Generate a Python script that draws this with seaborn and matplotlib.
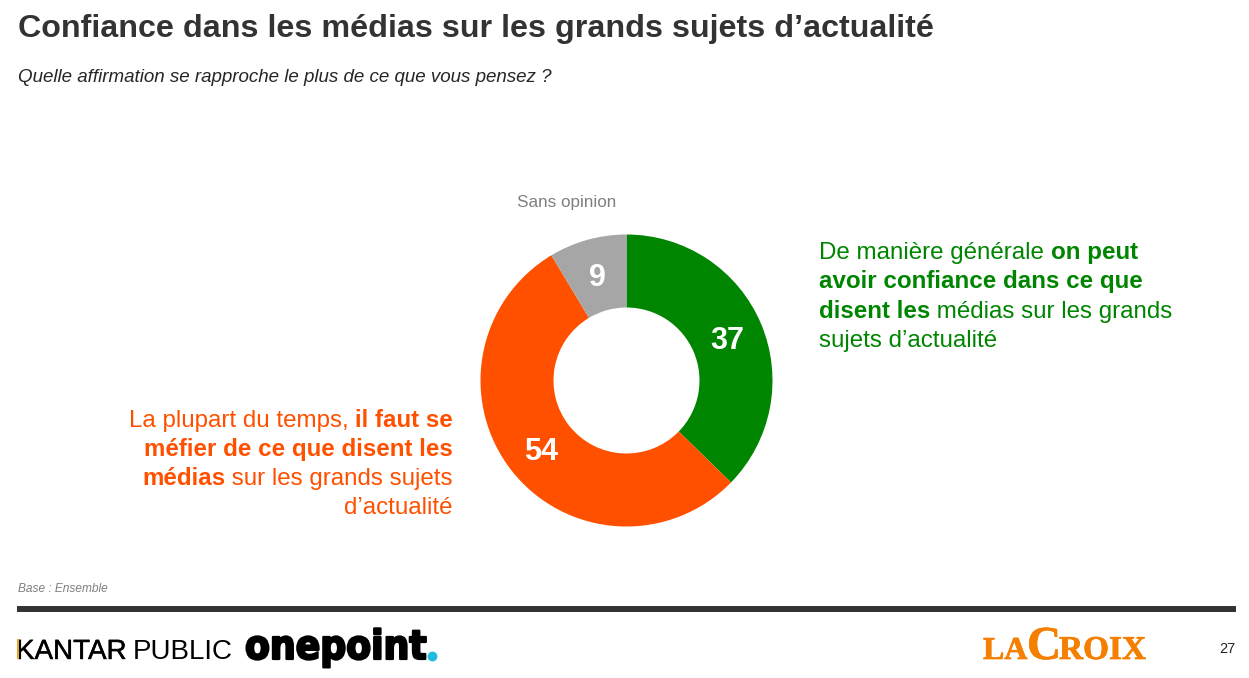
import matplotlib
matplotlib.use('Agg')
import matplotlib.pyplot as plt
import matplotlib.patheffects as pe
import seaborn as sns

# data
labels = ['On peut avoir confiance', 'Il faut se méfier', 'Sans opinion']
values = [37.3, 54.1, 8.6]
colors = ['#008500', '#FF5000', '#A6A6A6']

title = 'Confiance dans les médias sur les grands sujets d’actualité'
subtitle = 'Quelle affirmation se rapproche le plus de ce que vous pensez ?'

# (texte, gras) par ligne
right_lines = [
    [('De manière générale ', False), ('on peut', True)],
    [('avoir confiance dans ce que', True)],
    [('disent les', True), (' médias sur les grands', False)],
    [('sujets d’actualité', False)],
]
left_lines = [
    [('La plupart du temps, ', False), ('il faut se', True)],
    [('méfier de ce que disent les', True)],
    [('médias', True), (' sur les grands sujets', False)],
    [('d’actualité', False)],
]

sns.set_theme(style='white')
plt.rcParams['font.family'] = ['Liberation Sans', 'DejaVu Sans']

W, H = 1249, 678
fig = plt.figure(figsize=(W / 100, H / 100), dpi=100)

# fond en coordonnees pixels
bg = fig.add_axes([0, 0, 1, 1])
bg.set_xlim(0, W)
bg.set_ylim(H, 0)
bg.axis('off')

# donut
cx, cy, r = 626.5, 380.5, 146
ax = fig.add_axes([(cx - r) / W, 1 - (cy + r) / H, 2 * r / W, 2 * r / H])
wedges, _, pct = ax.pie(values, colors=colors, startangle=90, counterclock=False,
                        wedgeprops={'width': 0.5, 'linewidth': 0},
                        autopct=lambda p: f'{p:.0f}', pctdistance=0.75)
for t in pct:
    t.set_color('white')
    t.set_fontsize(22)
    t.set_fontweight('bold')
    t.set_verticalalignment('center_baseline')
ax.set_xlim(-1, 1)
ax.set_ylim(-1, 1)


def draw_line(x, y, parts, color, size, align='left'):
    renderer = fig.canvas.get_renderer()
    items = []
    total = 0
    for txt, bold in parts:
        # mesure avec les espaces de bord
        t = bg.text(0, 0, txt.replace(' ', '\u00a0'), fontsize=size, color=color,
                    fontweight='bold' if bold else 'normal', va='baseline')
        w = t.get_window_extent(renderer).width
        items.append((t, w))
        total += w
    pos = x - total if align == 'right' else x
    for t, w in items:
        t.set_position((pos, y))
        pos += w


bg.text(18, 37, title, fontsize=23.2, fontweight='bold', color='#333333', va='baseline')
bg.text(18, 82, subtitle, fontsize=13.5, style='italic', color='#262626', va='baseline')
bg.text(566.5, 207, 'Sans opinion', fontsize=12.3, color='#7F7F7F', ha='center', va='baseline')

for i, parts in enumerate(right_lines):
    draw_line(819, 259 + i * 29.3, parts, '#008500', 17.4)
for i, parts in enumerate(left_lines):
    draw_line(453, 427 + i * 29.1, parts, '#FF5000', 17.4, align='right')

bg.text(18, 592, 'Base : Ensemble', fontsize=8.6, style='italic', color='#7F7F7F', va='baseline')
bg.plot([17, 1236], [609, 609], color='#333333', lw=4.3, solid_capstyle='butt')
bg.text(1227, 653, '27', fontsize=10.5, color='#262626', ha='center', va='baseline')

# logos en texte
bg.text(16, 659, 'KANTAR', fontsize=20, color='black', va='baseline', family='Liberation Sans',
        path_effects=[pe.withStroke(linewidth=0.3, foreground='black')])
bg.plot([18, 18], [639, 659], color='#E0A82E', lw=1.5, solid_capstyle='butt', zorder=5)
bg.text(133, 659, 'PUBLIC', fontsize=20, color='black', va='baseline', family='Liberation Sans')
bg.text(245, 659, 'onepoint', fontsize=29, color='black', va='baseline', fontweight='bold',
        family='DejaVu Sans', stretch='condensed',
        path_effects=[pe.withStroke(linewidth=1.6, foreground='black')])
bg.scatter([432], [655.5], s=50, color='#1FBCE0', linewidths=0)

orange = '#F47F00'
thick = [pe.withStroke(linewidth=0.5, foreground=orange)]
bg.text(983, 659, 'LA', fontsize=23, color=orange, va='baseline', family='Liberation Serif',
        fontweight='bold', path_effects=thick)
bg.text(1027, 659, 'C', fontsize=34, color=orange, va='baseline', family='Liberation Serif',
        fontweight='bold', path_effects=thick)
bg.text(1059, 659, 'ROIX', fontsize=24, color=orange, va='baseline', family='Liberation Serif',
        fontweight='bold', path_effects=thick)

plt.savefig('out.png', dpi=100)
plt.close()
